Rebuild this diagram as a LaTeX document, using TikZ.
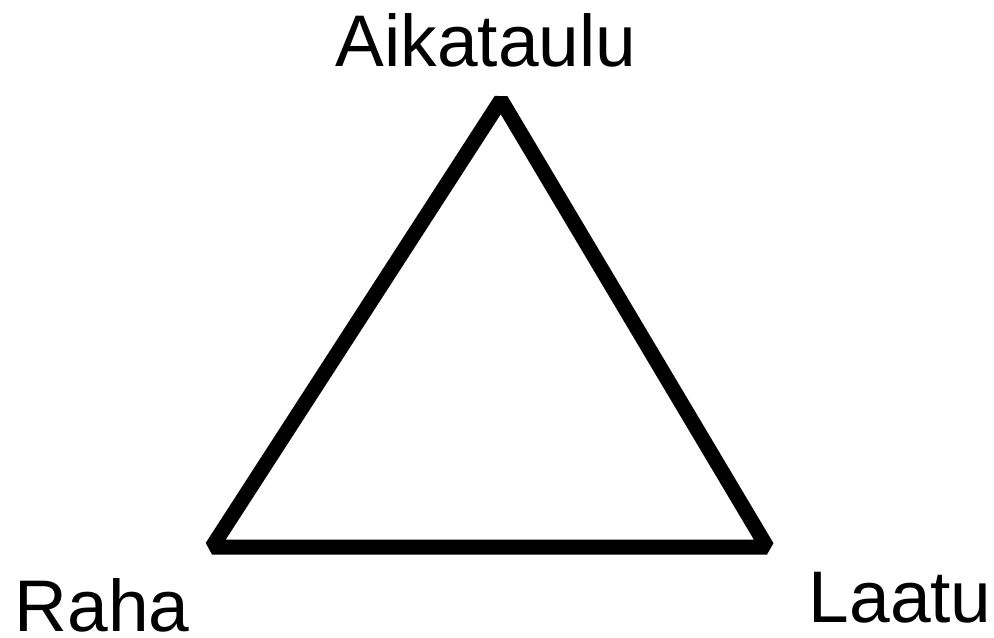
\documentclass[tikz,border=0pt]{standalone}
\usepackage{fontspec}
\setmainfont{Liberation Sans}
\usetikzlibrary{positioning}

\begin{document}
\begin{tikzpicture}[
  side/.style={draw=black, line width=0.15cm, line join=bevel},
  corner/.style={anchor=base west, inner sep=0pt, font=\fontsize{20.8}{25}\selectfont},
]
  \useasboundingbox (0,0) rectangle (9.94,6.37);
  \coordinate (apex) at (5.01,5.37);
  \coordinate (bl) at (2.12,0.90);
  \coordinate (br) at (7.67,0.90);
  \draw[side] (bl) -- (apex) -- (br) -- cycle;

  \node[corner] (aikataulu) at (3.35,5.71) {Aikataulu};
  \node[corner] (raha) at (0.14,0.06) {Raha};
  \node[corner] (laatu) at (8.08,0.15) {Laatu};
\end{tikzpicture}
\end{document}
